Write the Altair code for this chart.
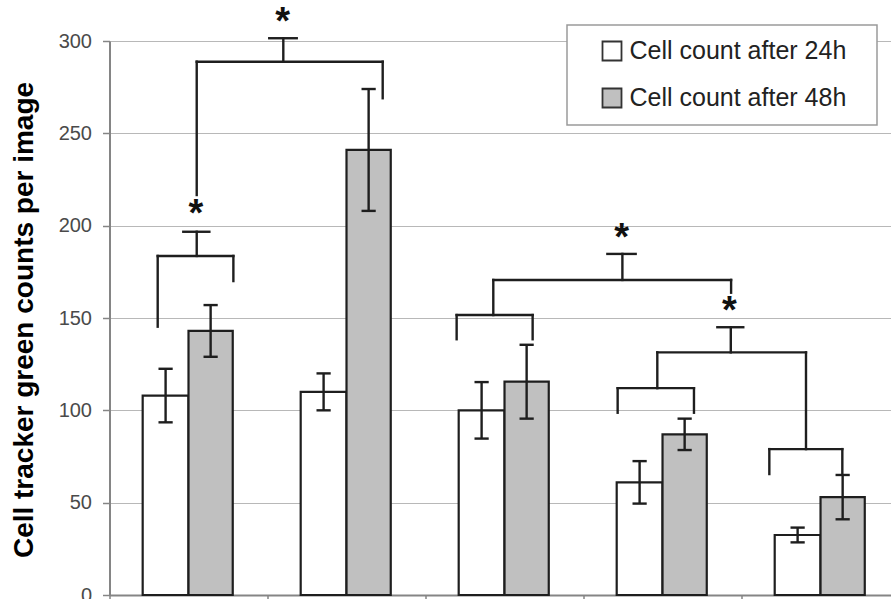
import altair as alt
import pandas as pd

# Mean cell counts per image (and error) for five conditions
groups = [1, 2, 3, 4, 5]
series = ["Cell count after 24h", "Cell count after 48h"]
mean_24h = [108, 110, 100, 61, 32.5]
err_24h = [14.5, 10, 15.3, 11.5, 4]
mean_48h = [143, 241, 115.5, 87, 53]
err_48h = [14, 33, 20, 8.5, 12]

# Significance brackets: (x1, y1, x2, y2) in (group position, count) space
bracket_segments = [
    # condition 1: 24h vs 48h
    (0.305, 145.3, 0.305, 183.6), (0.305, 183.6, 0.784, 183.6),
    (0.784, 183.6, 0.784, 170.0), (0.552, 183.6, 0.552, 196.7),
    (0.467, 196.7, 0.632, 196.7),
    # condition 1 vs condition 2
    (0.552, 216.6, 0.552, 288.8), (0.552, 288.8, 1.729, 288.8),
    (1.729, 288.8, 1.729, 269.0), (1.100, 288.8, 1.100, 301.5),
    (1.011, 301.5, 1.185, 301.5),
    # condition 3
    (2.197, 138.5, 2.197, 151.6), (2.197, 151.6, 2.678, 151.6),
    (2.678, 151.6, 2.678, 138.5), (2.429, 151.6, 2.429, 170.6),
    # condition 3 vs conditions 4/5
    (2.429, 170.6, 3.934, 170.6), (3.934, 170.6, 3.934, 163.7),
    (3.246, 170.6, 3.246, 184.7), (3.151, 184.7, 3.330, 184.7),
    # condition 4 vs condition 5
    (3.847, 145.0, 4.011, 145.0), (3.932, 145.0, 3.932, 131.4),
    (3.467, 131.4, 4.408, 131.4), (3.467, 131.4, 3.467, 112.0),
    (4.408, 131.4, 4.408, 79.0),
    # condition 4
    (3.216, 98.7, 3.216, 112.0), (3.216, 112.0, 3.699, 112.0),
    (3.699, 112.0, 3.699, 98.7),
    # condition 5
    (4.176, 65.5, 4.176, 79.0), (4.176, 79.0, 4.638, 79.0),
    (4.638, 79.0, 4.638, 65.5),
]
star_x = [0.547, 1.096, 3.242, 3.923]
star_y = [209.4, 313.5, 196.2, 156.5]

y_ticks = [0, 50, 100, 150, 200, 250, 300]

# bar geometry in group units
LEFT_W = 0.29
RIGHT_W = 0.28
CAP = 0.045
X_MAX = 4.946

rows = []
for i, g in enumerate(groups):
    c = i + 0.5
    rows.append(dict(series=series[0], x=c - LEFT_W, x2=c, y=mean_24h[i],
                     lo=mean_24h[i] - err_24h[i], hi=mean_24h[i] + err_24h[i]))
    rows.append(dict(series=series[1], x=c, x2=c + RIGHT_W, y=mean_48h[i],
                     lo=mean_48h[i] - err_48h[i], hi=mean_48h[i] + err_48h[i]))
bars_df = pd.DataFrame(rows)
bars_df["xc"] = (bars_df["x"] + bars_df["x2"]) / 2
bars_df["cl"] = bars_df["xc"] - CAP
bars_df["cr"] = bars_df["xc"] + CAP

seg_df = pd.DataFrame(bracket_segments, columns=["x", "y", "x2", "y2"])
star_df = pd.DataFrame({"x": star_x, "y": star_y})

INK = "#1e1e1e"
AXIS_GRAY = "#858585"

xscale = alt.Scale(domain=[0, X_MAX], nice=False, zero=False)
yscale = alt.Scale(domain=[0, 300], nice=False, zero=True)

xaxis = alt.Axis(title=None, values=[0, 1, 2, 3, 4], labels=False, grid=False,
                 ticks=True, tickSize=6, tickColor=AXIS_GRAY, tickWidth=1.5,
                 domainColor=AXIS_GRAY, domainWidth=2)
yaxis = alt.Axis(title="Cell tracker green counts per image", values=y_ticks,
                 grid=True, gridColor="#b8b8b8", gridWidth=1.2,
                 tickSize=7, tickColor=AXIS_GRAY, tickWidth=1.5,
                 domainColor=AXIS_GRAY, domainWidth=2,
                 labelFontSize=20, labelColor="#4a4a4a", labelPadding=11,
                 titleFontSize=28, titleFontWeight="bold", titleColor="#000000",
                 titleAngle=-90, titleAlign="center", titleBaseline="alphabetic",
                 titleX=-77.5, titleY=278.5)

X = lambda f: alt.X(f"{f}:Q", scale=xscale, axis=xaxis)
Y = lambda f: alt.Y(f"{f}:Q", scale=yscale, axis=yaxis)

bars = alt.Chart(bars_df).mark_bar(stroke=INK, strokeWidth=2.2).encode(
    x=X("x"), x2="x2", y=Y("y"), y2=alt.datum(0),
    fill=alt.Fill("series:N",
                  scale=alt.Scale(domain=series, range=["#ffffff", "#c0c0c0"]),
                  legend=alt.Legend(title="\u00a0", titleOrient="right",
                                    titleFontSize=1, titlePadding=17,
                                    orient="none", legendX=457.5, legendY=-16)),
)

err_stem = alt.Chart(bars_df).mark_rule(color=INK, strokeWidth=2.4).encode(
    x=X("xc"), y=Y("lo"), y2="hi")
err_lo = alt.Chart(bars_df).mark_rule(color=INK, strokeWidth=2.4).encode(
    x=X("cl"), x2="cr", y=Y("lo"))
err_hi = alt.Chart(bars_df).mark_rule(color=INK, strokeWidth=2.4).encode(
    x=X("cl"), x2="cr", y=Y("hi"))

brackets = alt.Chart(seg_df).mark_rule(color=INK, strokeWidth=2.4,
                                       strokeCap="square").encode(
    x=X("x"), x2="x2", y=Y("y"), y2="y2")

stars = alt.Chart(star_df).mark_text(text="*", fontSize=38, fontWeight="bold",
                                     baseline="alphabetic", dy=17.5,
                                     color="#111111").encode(
    x=X("x"), y=Y("y"))

chart = alt.layer(bars, err_stem, err_lo, err_hi, brackets, stars).properties(
    width=781.5, height=554,
    padding={"left": 109.5, "top": 41, "right": 0, "bottom": 4},
    autosize=alt.AutoSizeParams(type="none"),
    background="white",
).configure_view(stroke=None).configure(font="Liberation Sans").configure_legend(
    padding=13.5, fillColor="#ffffff", strokeColor="#9a9a9a", strokeWidth=1.5,
    symbolType="square", symbolSize=361, symbolStrokeColor="#333333",
    symbolStrokeWidth=1.8, symbolOffset=19, labelOffset=5, labelLimit=400,
    labelFontSize=25, labelColor="#222222", labelFont="Liberation Sans",
    rowPadding=20, cornerRadius=0,
)

chart.save("out.html", embed_options={"renderer": "svg", "actions": False})
